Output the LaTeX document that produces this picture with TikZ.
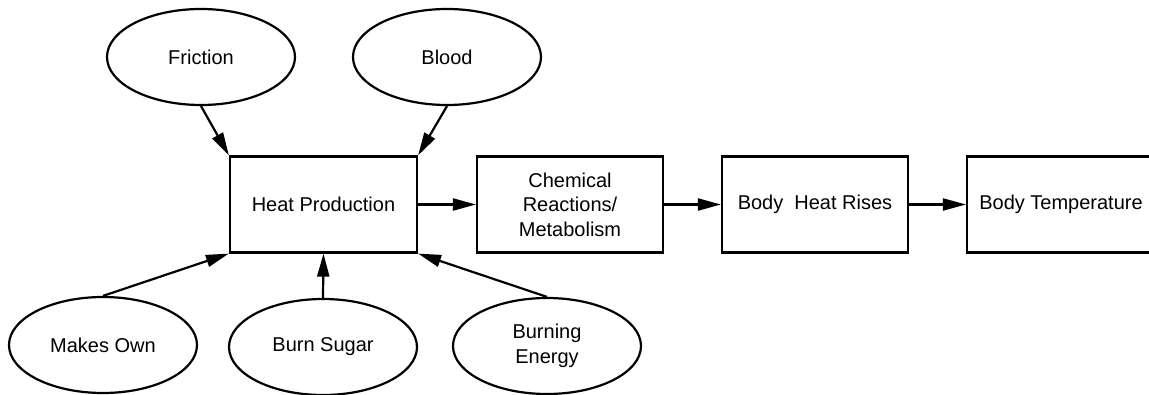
\documentclass[tikz,border=0pt]{standalone}
\usepackage{fontspec}
\setmainfont{Liberation Sans}
\usetikzlibrary{shapes.geometric,arrows.meta}
\begin{document}
\begin{tikzpicture}[x=1pt,y=-1pt,
  every node/.style={font=\fontsize{20}{24.5}\selectfont, align=center, inner sep=0pt},
  oval/.style={draw, ellipse, line width=2.2pt, minimum width=188pt, minimum height=96pt},
  stepbox/.style={draw, rectangle, line width=2.2pt, minimum width=187pt, minimum height=96pt},
  link/.style={line width=2.2pt, -{Triangle[length=23pt,width=12pt]}}]
\useasboundingbox (0,0) rectangle (1149,395);
\clip (0,0) rectangle (1149,395);

% main chain of boxes
\node[stepbox] (heat) at (323.5,204.5) {Heat Production};
\node[stepbox, minimum width=186pt] (chem) at (570,204.5) {Chemical\\Reactions/\\Metabolism};
\node[stepbox, minimum width=186pt] (rise) at (815,204.5) {Body~ Heat Rises};
\node[stepbox, minimum width=188pt] (temp) at (1061,204.5) {Body Temperature};

% sources feeding heat production
\node[oval] (fric) at (201,57) {Friction};
\node[oval] (blood) at (447,57) {Blood};
\node[oval] (own) at (103,345) {Makes Own};
\node[oval] (sugar) at (323,347) {Burn Sugar};
\node[oval] (burn) at (547,346) {Burning\\Energy};

% connectors
\draw[link] (fric.south) -- (heat.north west);
\draw[link] (blood.south) -- (heat.north east);
\draw[link] (own.north) -- (heat.south west);
\draw[link] (sugar.north) -- (heat.south);
\draw[link] (burn.north) -- (heat.south east);
\draw[link] (heat.east) -- (chem.west);
\draw[link] (chem.east) -- (rise.west);
\draw[link] (rise.east) -- (temp.west);
\end{tikzpicture}
\end{document}
